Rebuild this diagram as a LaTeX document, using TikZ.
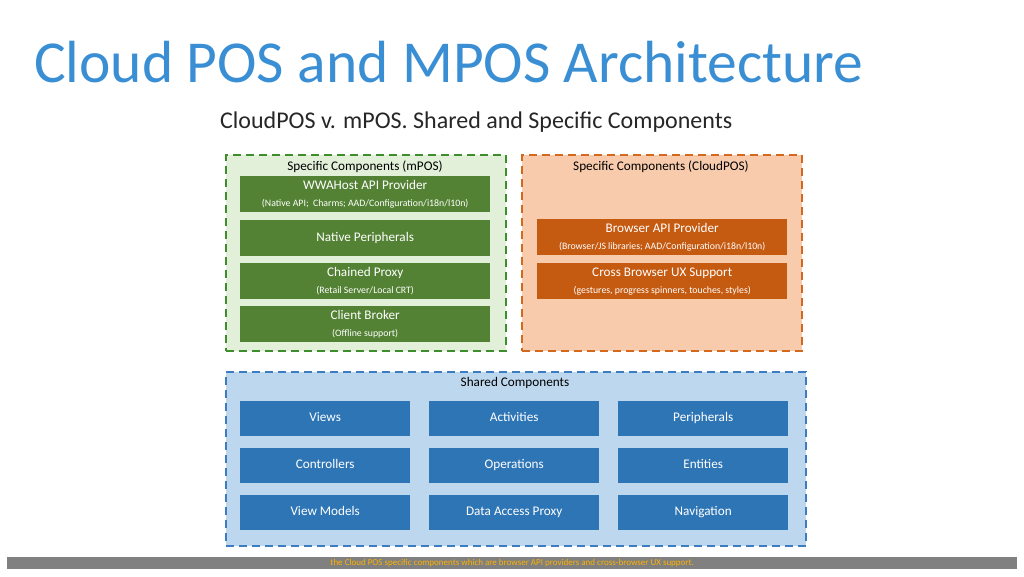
\documentclass[tikz,border=0pt]{standalone}
\usepackage{fontspec}
\setmainfont{Carlito}
\definecolor{titleblue}{HTML}{3A8FD4}
\definecolor{mposfill}{HTML}{E2EFD9}
\definecolor{mposline}{HTML}{3E8E2E}
\definecolor{mposbox}{HTML}{548235}
\definecolor{cposfill}{HTML}{F8CBAD}
\definecolor{cposline}{HTML}{D2691E}
\definecolor{cposbox}{HTML}{C55A11}
\definecolor{shfill}{HTML}{BDD7EE}
\definecolor{shline}{HTML}{3D7CC0}
\definecolor{shbox}{HTML}{2E75B6}
\newcommand{\subtxt}{\fontsize{9.8}{11}\selectfont}
\tikzset{
  group/.style={draw, line width=1.5pt, dash pattern=on 8pt off 5pt, anchor=north west, inner sep=0pt},
  comp/.style={anchor=north west, inner sep=0pt, text=white, align=center, font=\fontsize{13.2}{15}\selectfont},
  single/.style={text height=9.5pt, text depth=3pt}
}
\begin{document}
\begin{tikzpicture}[x=1pt,y=-1pt]
  \useasboundingbox (0,0) rectangle (1024,576);
  % title
  \node[anchor=west, text=titleblue, inner sep=0pt, font=\fontsize{59.5}{64}\selectfont] (title) at (34,62) {Cloud POS and MPOS Architecture};
  \node[anchor=west, inner sep=0pt, text=black!85, font=\fontsize{24}{28}\selectfont] (subtitle) at (220,122) {CloudPOS v. mPOS. Shared and Specific Components};
  % groups
  \node[group, draw=mposline, fill=mposfill, minimum width=280pt, minimum height=196pt] (mpos) at (225,154) {};
  \node[group, draw=cposline, fill=cposfill, minimum width=280pt, minimum height=196pt] (cpos) at (521,154) {};
  \node[group, draw=shline, fill=shfill, minimum width=580pt, minimum height=174pt] (shared) at (225,371) {};
  \node[font=\fontsize{13.2}{15}\selectfont] (mposlabel) at (365,167) {Specific Components (mPOS)};
  \node[font=\fontsize{13.2}{15}\selectfont] (cposlabel) at (661,167) {Specific Components (CloudPOS)};
  \node[font=\fontsize{13.2}{15}\selectfont] (shlabel) at (515,383) {Shared Components};
  % mPOS components
  \node[comp, fill=mposbox, minimum width=250pt, minimum height=36pt] (wwa) at (240,176) {WWAHost API Provider\\[2pt]{\subtxt (Native API;\ \ Charms; AAD/Configuration/i18n/l10n)}};
  \node[comp, single, fill=mposbox, minimum width=250pt, minimum height=36pt] (native) at (240,220) {Native Peripherals};
  \node[comp, fill=mposbox, minimum width=250pt, minimum height=36pt] (proxy) at (240,263) {Chained Proxy\\[2pt]{\subtxt (Retail Server/Local CRT)}};
  \node[comp, fill=mposbox, minimum width=250pt, minimum height=36pt] (broker) at (240,306) {Client Broker\\[2pt]{\subtxt (Offline support)}};
  % CloudPOS components
  \node[comp, fill=cposbox, minimum width=250pt, minimum height=36pt] (browser) at (537,219) {Browser API Provider\\[2pt]{\subtxt (Browser/JS libraries; AAD/Configuration/i18n/l10n)}};
  \node[comp, fill=cposbox, minimum width=250pt, minimum height=36pt] (ux) at (537,263) {Cross Browser UX Support\\[2pt]{\subtxt (gestures, progress spinners, touches, styles)}};
  % shared components
  \foreach \name/\lbl/\x/\y in {views/Views/240/401, activities/Activities/429/401, periph/Peripherals/618/401,
    controllers/Controllers/240/448, operations/Operations/429/448, entities/Entities/618/448,
    viewmodels/View Models/240/495, dap/Data Access Proxy/429/495, navigation/Navigation/618/495}
    \node[comp, single, fill=shbox, minimum width=170pt, minimum height=35pt] (\name) at (\x,\y) {\lbl};
  % caption bar
  \node[anchor=north west, fill=black!50, inner sep=0pt, minimum width=1010pt, minimum height=12pt, text=orange!60!yellow, font=\fontsize{9}{9}\selectfont] (caption) at (7,557) {the Cloud POS specific components which are browser API providers and cross-browser UX support.};
\end{tikzpicture}
\end{document}
